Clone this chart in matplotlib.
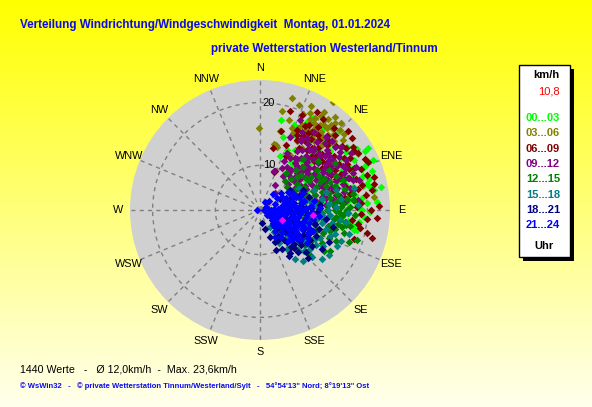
import numpy as np
import matplotlib
matplotlib.use("Agg")
import matplotlib.pyplot as plt
from matplotlib.transforms import offset_copy
from matplotlib.patches import Rectangle

# ---------------- data: (direction in degrees, speed in km/h) per time slot ----------------
h00_03 = [(13,17.6),(17.8,15.1),(24,13.4),(38.4,11.0),(45,20.6),(56.5,20.8),(60.3,20.9),(60.7,22.1),
          (76.3,20.4),(72,20.2),(93,18.1),(102,18.2),(87,18.3),(79.5,17.5),(59.7,15.6),(48.6,15.0),
          (52.8,12.6),(45,10.0),(62.5,17.9),(100,18.0),(101.7,18.7),(88,17.3),(86,18.4),(86,21.5),
          (74,19.5),(76,18.2),(20,12.0),(30,14.0),(35,16.5),(40,13.0),(50,17.5),(55,14.0),(65,13.5),
          (70,16.0),(42,18.0),(52,19.2),(66,19.0),(80,15.0),(95,16.0),(28,18.8),(33,12.0),(58,11.5),
          (47,13.8),(68,11.0),(44,16.2),
          (25,16.0),(32,17.0),(38,19.5),(48,18.5),(54,16.8),(61,14.5),(64,17.2),(70,18.6),(75,16.5),
          (82,17.0),(90,19.2),(97,17.0),(57,18.2),(40,15.2),(36,11.8),(30,19.8),(22,17.5),(84,13.5),
          (78,20.8),(67,21.0),
          (56,19.4),(58,21.2),(62,19.8),(65,21.6),(68,20.4),(71,21.8),(74,21.0),(77,19.8),(80,21.4),
          (83,19.2),(86,20.0),(89,18.6),(91,20.4),(94,19.5),(97,18.8),(63,18.6),(69,17.6),(73,17.0),
          (81,18.2),(85,16.8),(90,16.6),(54,20.0),(60,22.8),(66,22.6),(79,22.5)]
h03_06 = [(359,15.9),(12.7,19.1),(20.5,20.8),(33.9,23.6),(24,19.7),(14.3,15.8),(13.5,13.5),(21.4,17.0),
          (29.5,16.9),(30,18.9),(33.7,18.2),(35.2,19.5),(39.2,19.7),(42.3,19.1),(39.8,17.4),(33.7,16.3),
          (28.2,15.3),(35.1,20.5),(45,20.9),(28.6,12.9),(83.7,21.2),(12,13.7),(14.8,13.3),(50,20.2),
          (37,21.0),(31,20.0),(26,18.0),(41,18.3),(44,17.2),(47,19.0),(36,17.0),(32,19.2),(38,18.6),
          (40,20.6),(27,20.3),(18,18.0),(23,16.2),(16,21.5),(43,21.8),(34,14.8),
          (30,17.6),(34,18.8),(37,19.9),(40,18.0),(42,20.2),(29,19.4),(33,20.8),(36,18.2),(38,16.8),
          (44,19.6),(46,18.1),(31,17.8),(35,17.3),(28,18.2),(25,17.3),(41,21.2),(39,22.0),(48,21.0),
          (33,21.5),(26,21.4)]
h06_09 = [(17,19.4),(48,21.7),(77,21.5),(102,20.3),(98,18.6),(107,18.5),(21,9.5),(39,4.4),(20,9.4),
          (88,18.4),(25,17.0),(30,18.5),(35,19.0),(40,17.5),(45,18.5),(50,17.0),(28,15.5),(33,16.0),
          (38,15.0),(43,16.5),(48,14.5),(55,16.0),(60,17.5),(65,18.5),(52,19.5),(58,20.5),(68,16.0),
          (72,19.0),(80,17.5),(85,16.0),(92,17.0),(62,14.0),(22,14.0),(26,12.5),(15,16.0),(12,13.0),
          (36,13.0),(44,12.5),(56,12.5),(70,13.5),(75,15.0),(95,20.0),(82,20.0),(35,20.5),(42,20.5),
          (30,21.0),(24,19.5),(64,21.5),(46,15.2),(32,17.4),
          (30,16.5),(34,17.8),(38,18.0),(42,18.8),(46,17.8),(50,18.8),(54,17.5),(58,18.6),(62,16.5),
          (66,17.0),(40,15.8),(44,14.8),(52,15.5),(56,14.8),(36,16.8),(48,16.2),(60,19.5),(70,18.0),
          (74,17.0),(78,18.8),(64,15.5),(28,18.0),(26,16.2),(32,14.5),(54,19.8),(68,20.2),(86,19.0),
          (90,20.5),(58,15.8),(45,19.8),
          (60,21.0),(66,19.2),(72,20.8),(76,19.6),(80,21.0),(84,18.0),(88,21.8),(92,19.0),(96,17.6),
          (100,19.0),(104,21.2),(70,17.2),(62,18.6),(56,20.8),(74,21.8),(82,16.5),(94,21.6),(58,17.0),
          (66,21.8),(52,21.4)]
h09_12 = [(31,7.5),(42,6.5),(31,15.7),(40,12.0),(45,13.0),(50,12.5),(55,14.0),(35,14.5),(38,11.0),
          (48,15.5),(52,11.0),(58,13.5),(60,12.0),(65,14.5),(62,11.0),(44,10.0),(36,13.0),(30,12.5),
          (28,10.5),(25,13.0),(33,16.5),(40,17.0),(46,16.0),(54,16.5),(60,16.0),(68,13.0),(72,15.0),
          (75,12.0),(70,10.5),(66,17.5),(56,18.0),(50,18.5),(42,18.5),(35,18.0),(28,17.0),(22,15.5),
          (26,11.5),(34,9.5),(48,9.0),(58,9.5),(64,8.5),(80,13.5),(85,11.0),(78,16.5),(43,14.2),
          (47,12.0),(39,15.2),(52,13.8),(57,15.0),(62,13.0),(37,12.2),(45,11.3),(53,10.2),(67,12.2),
          (41,16.0),(32,14.0),(24,18.5),(58,20.0),(72,18.5),(20,9.5),
          (38,13.5),(42,15.5),(44,13.6),(46,14.6),(49,13.2),(51,14.8),(53,12.5),(55,15.8),(57,12.0),
          (59,14.6),(61,15.2),(63,12.0),(65,16.0),(67,14.0),(69,15.8),(71,13.8),(73,16.8),(76,14.2),
          (79,15.2),(82,12.5),(48,17.2),(52,16.8),(56,17.0),(44,17.8),(40,14.2),(36,15.8),(34,12.8),
          (32,11.0),(38,10.2),(42,11.8),(47,10.8),(50,10.0),(54,11.8),(60,10.5),(66,11.0),(70,12.0),
          (74,13.5),(62,17.8),(68,18.8),(30,16.0),
          (60,17.0),(64,18.2),(68,16.6),(70,17.8),(72,14.2),(74,15.6),(76,17.6),(78,13.0),(80,15.8),
          (82,14.6),(84,16.6),(86,13.4),(62,15.6),(66,14.8),(58,16.4),(54,18.6),(50,16.4),(56,13.2),
          (64,10.0),(70,9.2),(76,10.8),(80,11.8),(88,14.8),(60,18.8),(66,19.6),(73,19.4),(78,18.0),
          (52,19.2),(46,18.8),(84,18.6)]
h12_15 = [(132,13.6),(123,15.0),(107,19.0),(80,13.0),(85,14.5),(90,15.0),(95,14.0),(100,15.5),(75,12.0),
          (70,14.0),(88,12.5),(92,16.5),(98,13.0),(103,14.0),(78,15.5),(83,16.8),(65,13.5),(60,12.0),
          (55,14.0),(50,11.5),(72,10.5),(95,11.0),(105,12.0),(110,13.5),(115,11.5),(120,12.5),(125,10.0),
          (100,10.0),(85,9.5),(65,9.0),(55,10.0),(45,12.5),(60,15.5),(70,17.0),(80,18.0),(93,18.0),
          (100,17.5),(112,16.0),(118,14.0),(128,12.0),(108,10.5),(90,8.5),(78,11.0),(68,15.0),(58,17.0),
          (50,15.0),(40,13.5),(96,12.2),(86,13.8),(102,16.2),(76,14.2),(82,11.8),(110,18.0),(62,10.8),
          (88,17.2),
          (90,14.8),(92,15.6),(94,16.0),(96,15.2),(98,16.6),(88,15.8),(86,16.2),(90,16.8),(95,15.0),
          (100,16.8),(84,15.0),(80,14.2),(82,15.8),(86,12.2),(90,13.5),(93,12.8),(97,14.8),(101,13.2),
          (104,15.2),(107,14.5),(74,13.2),(72,15.5),(68,12.5),(64,14.2),(60,13.8),(57,12.5),(66,16.2),
          (76,16.8),(84,17.8),(105,16.8),(112,14.8),(115,13.0),(120,15.8),(109,12.5),(80,10.2),(75,9.5),
          (70,11.8),(100,12.0),(96,10.8),(88,11.2),
          (40,9.0),(45,9.8),(50,8.6),(55,11.8),(48,10.8),(35,10.0),(60,9.6),(42,11.5)]
h15_18 = [(137,11.6),(143,10.5),(111,16.7),(77,18.2),(94,14.1),(136,11.7),(120,9.5),(105,10.5),(125,12.5),
          (98,12.0),(130,8.5),(115,13.5),(88,15.0),(140,7.5),(150,9.0),(110,7.0),(100,9.0),(120,14.5),
          (85,11.5),(92,17.0),(132,14.0),(80,13.0),(145,12.5),(118,11.0),(108,15.5),(127,10.0),(102,13.0),
          (95,10.0),(70,12.0),(82,16.0),(135,6.5),(150,6.0),(115,8.0),(125,6.0),(90,8.0),(105,17.5),
          (75,15.5),(112,12.0),(138,9.0),(100,6.5),(60,10.0),(123,16.0),(97,15.8),(87,18.5),(128,13.0),
          (110,11.0),(115,10.2),(118,12.8),(122,13.5),(125,11.5),(130,11.0),(133,12.5),(120,8.2),(112,9.5),
          (105,8.5),(100,11.2),(106,13.8),(95,12.8),(90,13.8),(100,14.5),(110,14.8),(128,15.5),(140,13.5),
          (145,10.5),(135,10.0),(128,8.0),(142,8.0),(147,7.0),(115,16.5),(88,12.2),(92,11.2),(80,11.0),
          (85,14.0),(75,13.8),(98,16.8)]
h18_21 = [(155,8.5),(121,12.2),(128,11.0),(115,15.0),(103,14.8),(56,8.7),(140,10.5),(135,7.0),(110,9.0),
          (95,8.0),(130,9.5),(145,8.0),(160,7.5),(120,10.8),(100,11.5),(90,10.0),(125,13.0),(150,10.0),
          (105,6.5),(115,7.5),(138,12.0),(85,12.5),(70,9.5),(80,7.0),(132,8.2),(118,6.0),(148,11.5),
          (108,12.8),(98,13.5),(165,6.0),(112,5.0),(75,11.0),(62,6.5),(142,9.0),(126,6.8),(92,6.0),
          (135,13.8),(122,14.5),(158,9.8),(100,4.8),(170,5.0),(88,9.0),(113,10.5),(127,8.8),(65,10.5),
          (110,8.0),(115,9.0),(120,8.5),(125,10.0),(130,11.5),(135,10.5),(140,9.5),(118,11.5),(112,11.8),
          (106,10.0),(102,9.0),(96,10.5),(92,12.0),(104,12.0),(108,7.5),(122,7.0),(128,7.5),(132,12.8),
          (138,11.0),(145,11.2),(150,8.5),(140,6.5),(88,11.0),(84,9.5),(78,8.5),(72,7.8),(68,8.5),
          (96,7.0),(100,6.0),(115,12.8)]
h21_24 = [(270,3.4),(90,3.6),(60,4.0),(80,4.2),(110,4.1),(125,4.3),(100,4.8),(120,5.0),(85,5.2),(130,5.3),
          (70,5.5),(105,5.6),
          (115,5.9),(125,6.0),(95,6.2),(132,6.4),(140,6.1),(80,6.5),(110,6.7),(100,7.0),(120,7.1),(90,7.3),
          (128,7.4),(60,7.0),(75,7.6),(100,5.5),(105,6.4),(110,6.0),(115,6.9),(120,6.2),(125,7.0),(95,7.3),
          (90,6.6),(85,6.8),(80,7.4),(75,6.8),(70,6.9),(65,7.4),
          (105,7.8),(115,8.0),(135,7.9),(125,8.3),(95,8.4),(85,8.6),(110,8.8),(130,8.9),(100,9.1),(70,9.0),
          (118,7.5),(98,8.0),(100,8.2),(105,8.9),(110,7.8),(120,8.6),(90,8.6),(80,8.2),(75,8.2),(85,7.8),
          (65,8.4),(58,8.2),(62,8.8),
          (120,9.3),(80,9.5),(138,9.6),(90,9.8),(105,10.0),(115,10.2),(128,10.4),(95,10.6),(125,10.9),
          (108,9.5),(122,10.0),(115,9.2),(125,9.5),(95,9.3),(85,9.2),(110,10.2),(100,10.4),(88,10.2),
          (78,10.0),(68,10.2),(72,9.6),(132,9.8),
          (110,11.2),(100,11.5),(85,11.0),(105,11.0),(115,11.4),(120,11.8),(92,11.2),(112,12.0),(96,12.3),
          (80,11.6),(125,12.0),(88,12.4),
          (55,6.2),(45,5.0),(30,4.4),(50,7.2),(40,6.2),(142,8.4),(145,7.0),(150,7.8),(135,5.8),(98,5.0),
          (108,4.6),(92,4.6),(128,5.5),(88,5.8),(112,5.4),(102,6.0),(132,6.8)]
highlight = [(95,11.4),(115,6.8)]

groups = [h00_03, h03_06, h06_09, h09_12, h12_15, h15_18, h18_21, h21_24]
group_labels = ["00...03", "03...06", "06...09", "09...12", "12...15", "15...18", "18...21", "21...24"]
group_colors = ["#00FF00", "#808000", "#800000", "#800080", "#008000", "#008080", "#000080", "#0000FF"]
dir_labels = ["N", "NNE", "NE", "ENE", "E", "ESE", "SE", "SSE",
              "S", "SSW", "SW", "WSW", "W", "WNW", "NW", "NNW"]
r_min, r_max = 2.9, 23.6
r_ticks = [10, 20]

W, H = 592, 407
fig = plt.figure(figsize=(W / 100, H / 100), dpi=100)
SANS = ["Liberation Sans", "DejaVu Sans"]

def fx(x):
    return x / W

def fy(y):
    return 1 - y / H

# background gradient
bg = fig.add_axes([0, 0, 1, 1], zorder=-10)
t = np.linspace(0, 1, 256)[:, None]
grad = np.zeros((256, 2, 3))
grad[..., 0] = 1.0
grad[..., 1] = 1.0
grad[..., 2] = 0.0 + 0.93 * t
bg.imshow(grad, aspect="auto", extent=[0, 1, 0, 1], origin="upper")
bg.set_axis_off()

# polar axes: center (260,210), radius 130 px
ax = fig.add_axes([fx(130), fy(340), 260 / W, 260 / H], projection="polar")
ax.set_theta_zero_location("N")
ax.set_theta_direction(-1)
ax.set_ylim(r_min, r_max)
ax.set_facecolor("#D0D0D0")
ax.spines["polar"].set_visible(False)
ax.set_thetagrids(np.arange(0, 360, 22.5), labels=[""] * 16)
ax.set_rgrids(r_ticks, labels=["", ""])
ax.grid(True, color="#808080", linestyle=(0, (3, 3)), linewidth=1.0)
ax.tick_params(length=0)

for pts, col in zip(groups, group_colors):
    d = np.radians([p[0] for p in pts])
    s = [p[1] for p in pts]
    ax.scatter(d, s, marker="D", s=15, color=col, linewidths=0, zorder=3)
ax.scatter(np.radians([p[0] for p in highlight]), [p[1] for p in highlight],
           marker="D", s=15, color="#FF00FF", linewidths=0, zorder=4)

# radial labels
off = offset_copy(ax.transData, fig=fig, x=9, y=0, units="dots")
for rv in r_ticks:
    ax.text(0, rv, str(rv), transform=off, ha="center", va="center",
            fontsize=8, family=SANS, color="black", zorder=5)

# direction labels
for i, lab in enumerate(dir_labels):
    th = np.radians(i * 22.5)
    rr = 0.5 * 142 / 130
    ax.text(0.5 + rr * np.sin(th), 0.5 + rr * np.cos(th), lab, transform=ax.transAxes,
            ha="center", va="center", fontsize=7.8, family=SANS, color="black")

# titles
fig.text(fx(20), fy(25), "Verteilung Windrichtung/Windgeschwindigkeit  Montag, 01.01.2024",
         ha="left", va="center", fontsize=8.4, fontweight="bold", family=SANS, color="#0A0AF0")
fig.text(fx(211), fy(49), "private Wetterstation Westerland/Tinnum",
         ha="left", va="center", fontsize=8.4, fontweight="bold", family=SANS, color="#0A0AF0")

# legend box
fig.patches.append(Rectangle((fx(523), fy(261)), 51 / W, 192 / H, transform=fig.transFigure,
                             facecolor="black", edgecolor="none", zorder=1))
fig.patches.append(Rectangle((fx(519), fy(257)), 51 / W, 192 / H, transform=fig.transFigure,
                             facecolor="white", edgecolor="black", linewidth=1, zorder=2))
fig.text(fx(560), fy(75), "km/h", ha="right", va="center", fontsize=8, fontweight="bold",
         family=SANS, color="black", zorder=3)
fig.text(fx(560), fy(92), "10,8", ha="right", va="center", fontsize=8,
         family=SANS, color="red", zorder=3)
for i, (lab, col) in enumerate(zip(group_labels, group_colors)):
    fig.text(fx(526), fy(118 + i * 15.3), lab, ha="left", va="center", fontsize=8,
             fontweight="bold", family=SANS, color=col, zorder=3)
fig.text(fx(544), fy(246), "Uhr", ha="center", va="center", fontsize=8, fontweight="bold",
         family=SANS, color="black", zorder=3)

# bottom texts
fig.text(fx(20), fy(369), "1440 Werte   -   \u00d8 12,0km/h  -  Max. 23,6km/h",
         ha="left", va="center", fontsize=7.7, family=SANS, color="black")
fig.text(fx(20), fy(386),
         "\u00a9 WsWin32   -   \u00a9 private Wetterstation Tinnum/Westerland/Sylt   -   54\u00b054'13\" Nord; 8\u00b019'13\" Ost",
         ha="left", va="center", fontsize=5.5, fontweight="bold", family=SANS, color="#0A0AF0")

fig.savefig("out.png", dpi=100)
